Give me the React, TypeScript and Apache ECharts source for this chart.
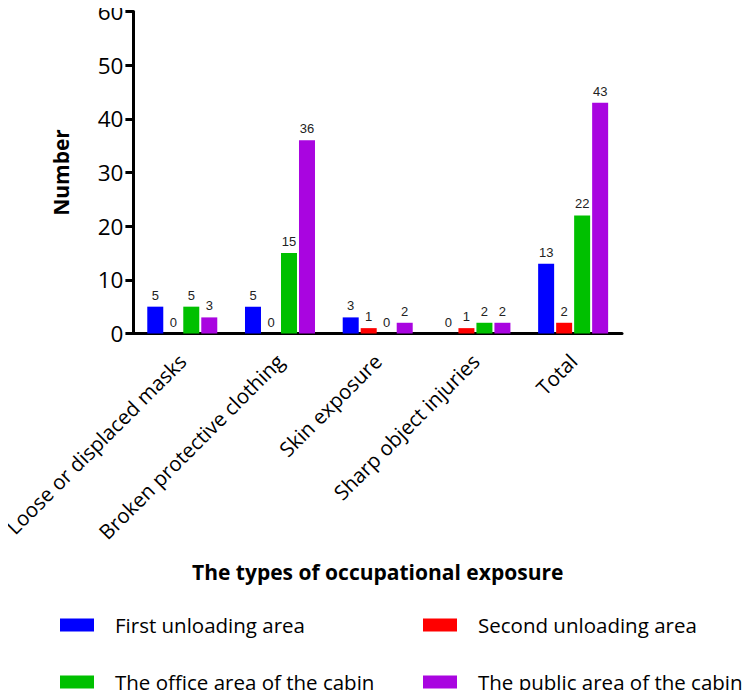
import React, { useEffect, useRef } from "react";
import * as echarts from "echarts";

const categories = [
  "Loose or displaced masks",
  "Broken protective clothing",
  "Skin exposure",
  "Sharp object injuries",
  "Total",
];
const seriesNames = [
  "First unloading area",
  "Second unloading area",
  "The office area of the cabin",
  "The public area of the cabin",
];
const firstUnloading = [5, 5, 3, 0, 13];
const secondUnloading = [0, 0, 1, 1, 2];
const officeArea = [5, 15, 0, 2, 22];
const publicArea = [3, 36, 2, 2, 43];
const colors = ["#0000FF", "#FF0000", "#00C000", "#A905E0"];
const yTicks = [0, 10, 20, 30, 40, 50, 60];

const FONT = "'Open Sans', 'Noto Sans', sans-serif";

export default function App() {
  const ref = useRef<HTMLDivElement>(null);
  useEffect(() => {
    if (!ref.current) return;
    const chart = echarts.init(ref.current, undefined, { renderer: "svg" });
    const data = [firstUnloading, secondUnloading, officeArea, publicArea];
    const legendText = {
      fontFamily: FONT,
      fontSize: 20.5,
      color: "#000",
      lineHeight: 22,
      padding: [0, 0, 0, 16],
    };
    const legendBase = {
      orient: "vertical",
      top: 614,
      itemWidth: 34,
      itemHeight: 13,
      itemGap: 35,
      icon: "rect",
      textStyle: legendText,
      padding: 0,
    };
    chart.setOption({
      animation: false,
      grid: { left: 132, top: 9.5, width: 490, height: 324, containLabel: false },
      legend: [
        { ...legendBase, data: [seriesNames[0], seriesNames[2]], left: 60 },
        { ...legendBase, data: [seriesNames[1], seriesNames[3]], left: 423 },
      ],
      xAxis: {
        type: "category",
        data: categories,
        name: "The types of occupational exposure",
        nameLocation: "middle",
        nameGap: 228,
        nameTextStyle: { fontFamily: FONT, fontSize: 21, fontWeight: "bold", color: "#000" },
        axisLine: { lineStyle: { color: "#000", width: 3 } },
        axisTick: { alignWithLabel: true, length: 10, lineStyle: { color: "#000", width: 3 } },
        axisLabel: {
          rotate: 45,
          interval: 0,
          margin: 24,
          fontFamily: FONT,
          fontSize: 20.5,
          color: "#000",
        },
      },
      yAxis: {
        type: "value",
        min: 0,
        max: 60,
        interval: 10,
        name: "Number",
        nameLocation: "middle",
        nameGap: 62,
        nameRotate: 90,
        nameTextStyle: { fontFamily: FONT, fontSize: 21, fontWeight: "bold", color: "#000" },
        axisLine: { show: true, lineStyle: { color: "#000", width: 3 } },
        axisTick: { show: true, length: 8, lineStyle: { color: "#000", width: 3 } },
        axisLabel: {
          margin: 10,
          fontFamily: FONT,
          fontSize: 22.5,
          lineHeight: 14,
          color: "#000",
          padding: [8, 0, 0, 0],
          formatter: (v: number) => (yTicks.includes(v) ? String(v) : ""),
        },
        splitLine: { show: false },
      },
      series: seriesNames.map((name, i) => ({
        name,
        type: "bar",
        data: data[i],
        barWidth: 16,
        barGap: "12.5%",
        itemStyle: { color: colors[i] },
        label: {
          show: true,
          position: "top",
          distance: 5,
          fontFamily: "'Liberation Sans', Arial, sans-serif",
          fontSize: 13,
          color: "#222",
        },
      })),
    });
    return () => chart.dispose();
  }, []);
  return <div ref={ref} style={{ width: 750, height: 698, margin: -8 }} />;
}
